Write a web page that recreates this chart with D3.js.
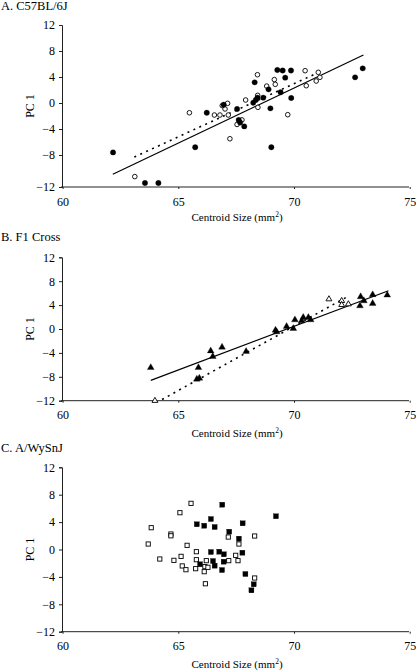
<!DOCTYPE html>
<html>
<head>
<meta charset="utf-8">
<script src="https://cdn.jsdelivr.net/npm/d3@7"></script>
<style>
  html, body { margin: 0; padding: 0; background: #fff; }
  svg { display: block; }
  text { font-family: "Liberation Serif", "Times New Roman", serif; fill: #000; }
</style>
</head>
<body>
<svg id="chart" width="416" height="672"></svg>
<script>
// ---------- DATA ----------
const xTicks = [60, 65, 70, 75];
const yTicks = [-12, -8, -4, 0, 4, 8, 12];
const panelTitles = ["A. C57BL/6J", "B. F1 Cross", "C. A/WySnJ"];
const xAxisTitle = "Centroid Size (mm";
const yAxisTitle = "PC 1";

// Panel A: C57BL/6J (filled circles / open circles)
const aFilledX = [62.18, 63.56, 64.14, 65.73, 66.23, 66.96, 67.54, 67.61, 67.67, 67.85,
                  68.30, 68.24, 68.35, 68.42, 68.67, 68.90, 68.98, 69.02, 69.28, 69.51,
                  69.42, 69.62, 69.87, 69.88, 72.64, 72.97];
const aFilledY = [-7.6, -11.5, -11.5, -6.8, -1.5, -0.26, -0.92, -2.6, -3.0, -3.6,
                  3.18, 0.05, 0.46, 0.82, 0.82, 2.1, -0.82, -6.8, 5.08, 5.0,
                  1.65, 3.9, 5.0, 0.77, 3.95, 5.33];
const aOpenX = [63.12, 65.48, 66.56, 66.80, 66.90, 67.02, 67.13, 67.16, 67.23, 67.54,
                67.75, 67.91, 68.42, 68.43, 68.44, 68.82, 69.15, 69.19, 69.73, 70.48,
                70.53, 70.96, 71.05, 71.12];
const aOpenY = [-10.7, -1.5, -1.85, -1.85, -0.4, -0.92, -0.05, -1.85, -5.5, -3.3,
                -2.6, 0.46, 4.35, 1.18, -0.67, 2.6, 3.6, 2.87, -1.8, 4.97,
                2.66, 3.38, 4.72, 3.95];
const aSolidX = [62.17, 73.0];
const aSolidY = [-10.4, 7.38];
const aDashX = [63.1, 71.0];
const aDashY = [-8.25, 4.6];

// Panel B: F1 Cross (filled triangles / open triangles)
const bFilledX = [63.81, 65.80, 65.91, 65.87, 66.40, 66.49, 66.89, 67.93, 69.20, 69.25,
                  69.68, 69.97, 70.04, 70.33, 70.40, 70.62, 70.72, 72.85, 72.88, 73.02,
                  73.40, 73.40, 74.03];
const bFilledY = [-6.46, -8.4, -8.25, -6.46, -3.67, -4.6, -3.05, -3.77, -0.2, -0.48,
                  0.42, 0.08, 1.53, 1.37, 1.93, 1.93, 1.53, 3.88, 5.39, 4.72,
                  5.73, 4.28, 5.67];
const bOpenX = [63.99, 71.51, 72.06, 72.06, 72.35];
const bOpenY = [-12.0, 5.0, 4.72, 4.05, 4.16];
const bSolidX = [63.81, 74.08];
const bSolidY = [-8.59, 6.4];
const bDashX = [64.3, 72.35];
const bDashY = [-11.8, 5.5];

// Panel C: A/WySnJ (filled squares / open squares)
const cFilledX = [66.90, 65.80, 66.12, 66.41, 66.57, 67.78, 67.20, 67.62, 67.77, 66.41,
                  66.77, 66.97, 65.94, 66.50, 66.57, 66.96, 66.89, 67.90, 68.26, 68.16,
                  69.22];
const cFilledY = [6.54, 3.68, 3.47, 4.45, 3.28, 3.82, 2.6, 1.58, -0.47, -0.37,
                  -0.32, -0.7, -2.16, -1.68, -2.36, -1.78, -3.0, -3.58, -5.08, -5.96,
                  4.85];
const cOpenX = [65.55, 65.07, 63.83, 64.68, 64.68, 63.70, 65.38, 64.20, 64.81, 65.12,
                65.17, 65.33, 65.78, 65.78, 65.75, 66.21, 66.15, 66.12, 66.28, 66.17,
                67.16, 67.62, 67.48, 67.58, 67.18, 68.30, 68.30];
const cOpenY = [6.74, 5.37, 3.18, 2.26, 2.0, 0.8, 0.61, -1.39, -1.58, -1.0,
                -2.4, -2.95, -0.32, -1.49, -2.8, -1.63, -2.5, -3.24, -2.6, -5.0,
                1.82, 0.8, -0.85, -1.63, -1.63, 1.97, -4.16];

// ---------- LAYOUT ----------
const svg = d3.select("#chart");
const xRange = [62.6, 409.7];
const axisX0 = 61, axisX1 = 409;

const panels = [
  { title: panelTitles[0], titleY: 10, top: 25, bottom: 187, yBreak: 155, xTitleY: 221,
    marker: "circle", filled: [aFilledX, aFilledY], open: [aOpenX, aOpenY],
    solid: [aSolidX, aSolidY], dash: [aDashX, aDashY] },
  { title: panelTitles[1], titleY: 241, top: 257.3, bottom: 400.7, xTitleY: 437,
    marker: "triangle", filled: [bFilledX, bFilledY], open: [bOpenX, bOpenY],
    solid: [bSolidX, bSolidY], dash: [bDashX, bDashY] },
  { title: panelTitles[2], titleY: 452, top: 467.3, bottom: 631.7, xTitleY: 668,
    marker: "square", filled: [cFilledX, cFilledY], open: [cOpenX, cOpenY] }
];

const zip = (xs, ys) => xs.map((x, i) => [x, ys[i]]);

panels.forEach(p => {
  const g = svg.append("g");
  const x = d3.scaleLinear().domain([60, 75]).range(xRange);
  let y;
  if (p.yBreak) {
    y = d3.scaleLinear().domain([-12, -8, 12]).range([p.bottom, p.yBreak, p.top]);
  } else {
    y = d3.scaleLinear().domain([-12, 12]).range([p.bottom, p.top]);
  }

  // panel title
  g.append("text").attr("x", 1).attr("y", p.titleY)
    .attr("font-size", 12.5).text(p.title);

  // y axis
  const yAxis = g.append("g").attr("transform", `translate(${axisX0 + 1},0)`)
    .call(d3.axisLeft(y).tickValues(yTicks).tickSize(3).tickPadding(4)
      .tickFormat(d => d < 0 ? "\u2212" + Math.abs(d) : d));
  yAxis.select(".domain").attr("stroke", "#222");
  yAxis.selectAll(".tick line").attr("stroke", "#222");
  yAxis.selectAll(".tick text").attr("font-family", "Liberation Serif").attr("font-size", 12).attr("fill", "#000");

  // x axis
  const xAxis = g.append("g").attr("transform", `translate(0,${p.bottom})`)
    .call(d3.axisBottom(x).tickValues(xTicks).tickSize(2).tickPadding(8).tickFormat(d3.format("d")));
  xAxis.select(".domain").attr("d", `M${axisX0},0H${axisX1}`).attr("stroke", "#222");
  xAxis.selectAll(".tick line").attr("stroke", "#222");
  xAxis.selectAll(".tick text").attr("font-family", "Liberation Serif").attr("font-size", 12).attr("fill", "#000");

  // axis titles
  const xt = g.append("text").attr("x", (axisX0 + axisX1) / 2 + 2).attr("y", p.xTitleY)
    .attr("text-anchor", "middle").attr("font-size", 11);
  xt.append("tspan").text(xAxisTitle);
  xt.append("tspan").attr("font-size", 7.5).attr("dy", -4.5).text("2");
  xt.append("tspan").attr("dy", 4.5).text(")");

  g.append("text")
    .attr("transform", `translate(34,${(p.top + p.bottom) / 2}) rotate(-90)`)
    .attr("text-anchor", "middle").attr("font-size", 12).text(yAxisTitle);

  // regression lines
  const line = d3.line().x(d => x(d[0])).y(d => y(d[1]));
  if (p.solid) {
    g.append("path").datum(zip(p.solid[0], p.solid[1]))
      .attr("d", line).attr("fill", "none").attr("stroke", "#000").attr("stroke-width", 1.2);
  }
  if (p.dash) {
    g.append("path").datum(zip(p.dash[0], p.dash[1]))
      .attr("d", line).attr("fill", "none").attr("stroke", "#000")
      .attr("stroke-width", 1.6).attr("stroke-dasharray", "2,4.5");
  }

  // markers
  const drawMarkers = (data, filled) => {
    const sel = g.append("g").selectAll("path").data(data).enter();
    if (p.marker === "circle") {
      sel.append("circle").attr("cx", d => x(d[0])).attr("cy", d => y(d[1]))
        .attr("r", filled ? 2.7 : 2.3)
        .attr("fill", filled ? "#000" : "#fff").attr("stroke", "#000")
        .attr("stroke-width", filled ? 0.3 : 0.9);
    } else if (p.marker === "triangle") {
      sel.append("path").attr("d", d3.symbol().type(d3.symbolTriangle).size(filled ? 20 : 15)())
        .attr("transform", d => `translate(${x(d[0])},${y(d[1])})`)
        .attr("fill", filled ? "#000" : "#fff").attr("stroke", "#000")
        .attr("stroke-width", filled ? 0.3 : 0.9);
    } else {
      const s = filled ? 5 : 4.2;
      sel.append("rect").attr("x", d => x(d[0]) - s / 2).attr("y", d => y(d[1]) - s / 2)
        .attr("width", s).attr("height", s)
        .attr("fill", filled ? "#000" : "#fff").attr("stroke", "#000")
        .attr("stroke-width", filled ? 0.3 : 0.9);
    }
  };
  drawMarkers(zip(p.open[0], p.open[1]), false);
  drawMarkers(zip(p.filled[0], p.filled[1]), true);
});
</script>
</body>
</html>
